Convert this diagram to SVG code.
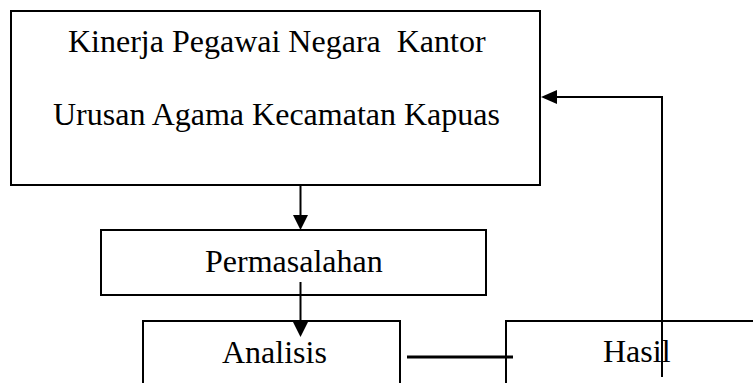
<svg xmlns="http://www.w3.org/2000/svg" width="753" height="383" viewBox="0 0 753 383">
<style>
.box{fill:none;stroke:#000;stroke-width:2}
.t{font-family:"Liberation Serif","Times New Roman",serif;font-size:32px;fill:#000}
.ln{fill:none;stroke:#000;stroke-width:2}
.head{fill:#000}
</style>
<rect width="753" height="383" fill="#fff"/>
<g id="kinerja">
<rect class="box" x="11" y="11" width="529" height="174"/>
<text class="t" x="68" y="52" xml:space="preserve">Kinerja Pegawai Negara  Kantor</text>
<text class="t" x="53" y="125">Urusan Agama Kecamatan Kapuas</text>
</g>
<g id="permasalahan">
<rect class="box" x="101" y="230" width="385" height="65"/>
<text class="t" x="205" y="272">Permasalahan</text>
</g>
<g id="analisis">
<rect class="box" x="143" y="321" width="257" height="90"/>
<text class="t" x="222" y="363">Analisis</text>
</g>
<g id="hasil">
<rect class="box" x="506" y="321" width="300" height="90"/>
<text class="t" x="603" y="362">Hasil</text>
</g>
<g id="connectors">
<line class="ln" x1="300.5" y1="185" x2="300.5" y2="216"/>
<polygon class="head" points="293,215 308,215 300.5,230"/>
<line class="ln" x1="300.5" y1="282" x2="300.5" y2="323"/>
<polygon class="head" points="293,322 308,322 300.5,337"/>
<line x1="407" y1="357" x2="513" y2="357" stroke="#000" stroke-width="3"/>
<polyline class="ln" points="662,377 662,97 556,97"/>
<polygon class="head" points="557,90 557,104 541,97"/>
</g>
</svg>
